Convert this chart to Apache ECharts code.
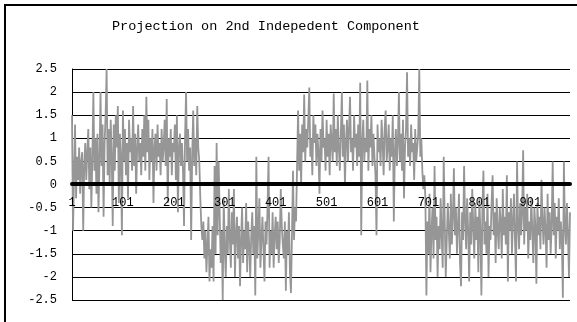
<!DOCTYPE html>
<html>
<head>
<meta charset="utf-8">
<script src="https://cdn.jsdelivr.net/npm/echarts@6/dist/echarts.min.js"></script>
<style>
  html, body { margin: 0; padding: 0; background: #fff; }
  #chart { width: 577px; height: 322px; }
</style>
</head>
<body>
<div id="chart"></div>
<script>
// projection values, one per two samples (1, 3, 5, ...)
const segA = [
  1.5, -1.0, 0.2, 1.3, -0.3, 0.6, 0.1, 0.8, -0.2, 0.5,
  0.7, -1.0, 0.4, 0.9, 0.1, 0.7, 1.2, -0.1, 0.8, -0.5,
  0.6, 2.0, 0.3, 1.0, -0.2, 1.1, -0.6, 0.5, 2.0, 0.4,
  1.3, -0.7, 0.9, 1.5, 2.5, 0.2, 1.2, 0.0, 1.4, 0.6,
  -0.9, 1.3, 0.3, 1.5, 0.8, 1.7, -0.4, 1.1, 0.6, -1.1,
  1.6, 0.5, 1.2, 0.2, 0.9, -0.3, 1.4, 0.7, 1.0, 0.3,
  1.7, 0.4, 1.1, -0.2, 0.8, 1.3, 0.5, 0.9, 0.2, 1.2,
  0.6, 1.5, 0.3, 1.9, 0.7, 1.4, 0.1, 1.0, 0.5, 1.2,
  -0.4, 0.8, 1.1, 0.3, 1.3, 0.6, 0.9, 0.2, 1.2, 0.5,
  0.8, 1.4, 0.4, 1.85, -0.4, 1.0, 0.6, 1.2, 0.2, 0.9,
  0.7, 1.3, 0.1, 1.5, -0.6, 0.8, 1.1, 0.4, 0.9, 0.3,
  -0.9, 1.0, 2.0, 0.5, 1.2, 0.3, 0.8, -1.2, 0.6, 1.6,
  0.4, 1.0, 0.2, 1.7, 0.8, 0.5, -0.3
];
const segB = [
  -0.9, -1.2, -0.8, -1.6, -1.0, -1.9, -1.3, -0.7, -2.1, -1.4,
  -1.8, -0.9, -2.1, 0.4, -1.5, 0.9, -1.1, 0.5, -0.6, -1.7,
  -1.0, -2.5, -0.3, -1.4, -2.0, -0.9, -1.5, -0.1, -1.2, -1.8,
  -0.6, -1.3, -0.1, -2.0, -1.1, -0.7, -1.6, -0.9, -2.2, -1.2,
  -0.5, -1.7, -1.0, -1.4, -0.4, -1.9, -0.8, -1.3, -2.0, -1.1,
  -0.6, -1.5, -0.9, -2.4, 0.6, -1.6, -1.0, -0.3, -1.8, -1.2,
  -0.7, -1.4, -2.1, -0.8, -1.3, -0.5, 0.6, -1.8, -1.0, -1.5,
  -0.6, -1.8, -1.1, -0.7, -1.4, -0.8, -1.7, -1.2, -0.1, -0.9,
  -1.3, -1.6, -0.8, -2.3, -1.0, -1.5, -0.6, -1.9, -2.35, -1.1,
  0.3, -1.2, -0.5, -0.8
];
const segC = [
  0.4, 1.6, 0.3, 1.1, 0.0, 1.3, 0.7, 1.95, 0.5, 1.2,
  0.8, 1.4, 2.1, 0.6, 1.0, 0.2, 1.5, 0.9, 1.3, 0.4,
  1.1, 0.7, -0.2, 1.2, 0.5, 1.6, 0.8, 1.0, 0.3, 1.4,
  0.6, 1.1, 0.2, 1.3, 0.9, 0.5, 1.97, 0.7, 1.2, 0.4,
  1.5, 0.8, 0.3, 1.1, 2.0, 0.6, 1.3, 0.0, 0.9, 1.4,
  0.5, 1.2, 1.9, 0.7, 1.0, 0.3, 1.5, 0.8, 1.1, 0.4,
  1.3, 0.6, 2.2, -1.1, 0.9, 1.4, 0.5, 1.0, 0.7, 2.25,
  0.3, 1.2, 0.8, 1.5, 0.4, 1.1, 0.6, 0.2, -1.1, 1.3,
  0.7, 1.0, 0.4, 1.4, 0.9, 0.2, 1.2, 1.6, 0.5, 0.8,
  1.3, 0.3, 1.0, 0.6, 1.5, -0.8, 0.7, 1.2, 0.4, 0.9,
  2.0, 0.5, 1.1, 0.3, 1.4, -0.3, 0.8, 1.2, 2.43, 0.6,
  1.0, 0.4, 1.3, 0.7, 0.9, 0.1, 1.2, 0.5, 0.8, 1.1,
  2.5, 0.6, 1.0, 0.3, -0.1, 0.2
];
const segD = [
  -0.3, -2.4, -0.8, -1.5, -0.2, -1.9, -1.0, -0.5, -1.6, 0.4,
  -1.2, -0.7, -2.0, -0.9, -1.4, -0.3, -1.1, -1.8, 0.6, -0.8,
  -2.0, -1.2, -0.4, -1.0, -1.6, -0.2, -1.3, -0.7, 0.35, -1.1,
  -0.5, -1.5, -0.9, -0.2, -1.7, -2.2, -0.6, -1.2, 0.4, -0.8,
  -1.4, -0.3, -1.0, -2.1, -0.6, -1.3, -0.1, -0.9, -1.6, -0.4,
  -1.2, -0.7, -1.9, -0.3, -1.0, -2.4, -0.5, 0.3, -1.3, -0.8,
  -1.5, -0.2, -2.0, -0.9, -1.2, -0.4, 0.2, -1.1, -0.6, -1.7,
  -0.3, -1.0, -1.4, -0.5, -0.8, -1.6, -0.1, -1.1, -0.7, -1.3,
  0.2, -2.1, -0.6, -1.0, -0.3, -1.5, -0.8, -0.2, -1.2, -2.1,
  0.5, -0.9, -1.4, -0.4, -1.1, -0.6, 0.74, -1.3, -0.5, -1.0,
  -0.2, -1.6, -0.8, -1.2, -0.3, -1.0, -1.7, -0.5, -0.9, -2.15,
  -0.4, -1.1, -0.7, -1.4, 0.1, -0.8, -1.3, -0.5, -1.0, -1.8,
  -0.2, -1.2, -0.6, -1.5, -0.9, 0.5, -1.1, -0.4, -1.6, -0.7,
  -1.0, -0.3, -1.4, -0.8, -1.2, -2.45, 0.5, -0.9, -1.3, -0.4,
  -1.1, -2.0, -0.6
];
const values = segA.concat(segB, segC, segD);
const sampleIds = values.map((v, i) => String(1 + 2 * i));

const titleText = 'Projection on 2nd Indepedent Component';
const yMin = -2.5;
const yMax = 2.5;
const yStep = 0.5;

const font = '"Liberation Mono", "DejaVu Sans Mono", monospace';

const chart = echarts.init(document.getElementById('chart'));

chart.setOption({
  animation: false,
  backgroundColor: '#fff',
  graphic: [
    {
      type: 'rect',
      shape: { x: 5, y: 5, width: 700, height: 400 },
      style: { fill: 'none', stroke: '#000', lineWidth: 2 },
      silent: true
    }
  ],
  title: {
    text: titleText,
    left: 112,
    top: 19,
    padding: 0,
    textStyle: { fontFamily: font, fontSize: 13.5, fontWeight: 'normal', color: '#000' }
  },
  grid: { left: 72, top: 69, right: 7, bottom: 22, containLabel: false },
  xAxis: {
    type: 'category',
    data: sampleIds,
    boundaryGap: false,
    // the category axis sits on the zero line, labels just under it
    offset: -116,
    z: 5,
    axisLine: { onZero: false, lineStyle: { color: '#000', width: 4 } },
    axisTick: { show: false },
    axisLabel: {
      interval: 49,
      margin: 13,
      fontFamily: font,
      fontSize: 12,
      color: '#000'
    },
    splitLine: { show: false }
  },
  yAxis: {
    type: 'value',
    min: yMin,
    max: yMax,
    interval: yStep,
    axisLine: { show: true, lineStyle: { color: '#000', width: 1 } },
    axisTick: { show: false },
    axisLabel: {
      margin: 15,
      fontFamily: font,
      fontSize: 12,
      color: '#000'
    },
    splitLine: { lineStyle: { color: '#000', width: 1 } }
  },
  series: [
    {
      type: 'line',
      data: values,
      showSymbol: false,
      lineStyle: { color: '#969696', width: 1.8 },
      itemStyle: { color: '#969696' }
    }
  ]
});
</script>
</body>
</html>
